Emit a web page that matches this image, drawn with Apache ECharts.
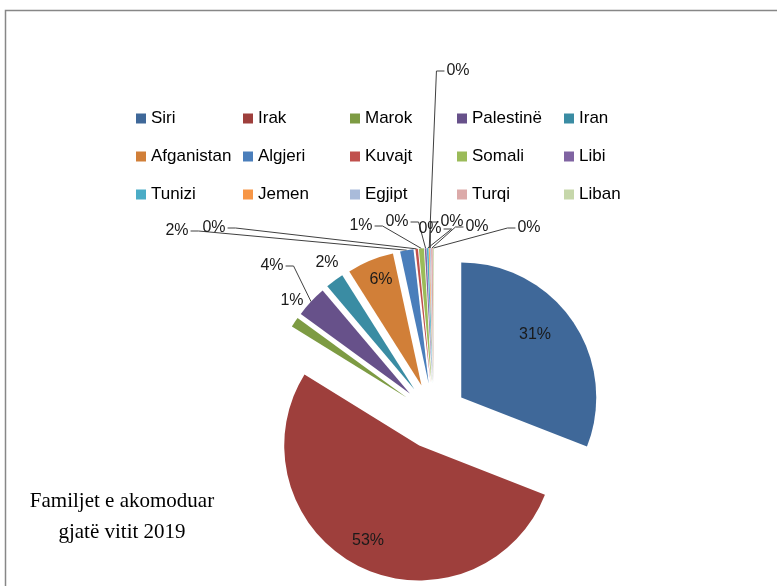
<!DOCTYPE html>
<html>
<head>
<meta charset="utf-8">
<script src="https://cdn.jsdelivr.net/npm/echarts/dist/echarts.min.js"></script>
<style>
  html, body { margin: 0; padding: 0; background: #fff; }
  #chart { width: 777px; height: 586px; }
</style>
</head>
<body>
<div id="chart"></div>
<script>
// familjet sipas vendit (perqindje e lexuar nga grafiku)
const countries = ['Siri', 'Irak', 'Marok', 'Palestinë', 'Iran', 'Afganistan', 'Algjeri', 'Kuvajt',
  'Somali', 'Libi', 'Tunizi', 'Jemen', 'Egjipt', 'Turqi', 'Liban'];
const shares = [31, 53, 1.2, 3.8, 2.2, 5.6, 1.6, 0.3, 0.6, 0.2, 0.2, 0.1, 0.1, 0.2, 0.1];
const sliceColors = ['#3F6899', '#9E3F3C', '#7D9B43', '#67518A', '#3A8CA3', '#D17F38', '#4A7EBB', '#C0504D',
  '#9BBB59', '#8064A2', '#4BACC6', '#F79646', '#A9BBDA', '#DCAAA9', '#C6D7AA'];

// where each percentage sits: [x, y, leader]  leader: 0 none, -1 label left of slice, 1 label right
const labelSpots = [
  [535, 335, 0], [368, 541, 0], [292, 301, 0], [272, 266, -1], [327, 263, 0], [381, 280, 0],
  [177, 231, -1], [214, 228, -1], [361, 226, -1], [397, 222, -1], [430, 229, -1],
  [458, 71, 1], [452, 222, 1], [477, 227, 1], [529, 228, 1]
];

const pieCenter = [434, 416];
const pieRadius = 135;
const explode = 33;

const pieData = countries.map(function (name, i) {
  return { name: name, value: shares[i], selected: true, itemStyle: { color: sliceColors[i] } };
});

// same values again, only to carry the percentage labels (no select offset on them)
const labelData = countries.map(function (name, i) {
  const item = { name: name, value: shares[i] };
  if (labelSpots[i][2] === 0) {
    item.labelLine = { show: false };
  }
  return item;
});

const myChart = echarts.init(document.getElementById('chart'), null, { renderer: 'canvas' });

const option = {
  backgroundColor: '#fff',
  animation: false,
  color: sliceColors,
  legend: {
    data: countries,
    left: 136,
    top: 105,
    width: 560,
    padding: 0,
    icon: 'rect',
    itemWidth: 10,
    itemHeight: 10,
    itemGap: 11,
    selectedMode: false,
    textStyle: {
      fontFamily: 'Liberation Sans',
      fontSize: 17,
      color: '#000',
      width: 81,
      lineHeight: 27
    }
  },
  graphic: [{
    type: 'rect',
    silent: true,
    shape: { x: 5.5, y: 10.5, width: 800, height: 620 },
    style: { fill: 'none', stroke: '#878787', lineWidth: 1.5 }
  }, {
    type: 'text',
    silent: true,
    x: 122,
    y: 486,
    style: {
      text: 'Familjet e akomoduar\ngjatë vitit 2019',
      textAlign: 'center',
      font: '21px "Liberation Serif"',
      lineHeight: 31,
      fill: '#000'
    }
  }],
  series: [{
    type: 'pie',
    center: pieCenter,
    radius: pieRadius,
    startAngle: 90,
    clockwise: true,
    selectedMode: 'multiple',
    selectedOffset: explode,
    data: pieData,
    itemStyle: { borderWidth: 0 },
    select: { itemStyle: { borderWidth: 0 } },
    emphasis: { disabled: true },
    label: { show: false },
    labelLine: { show: false }
  }, {
    type: 'pie',
    center: pieCenter,
    radius: pieRadius,
    startAngle: 90,
    clockwise: true,
    silent: true,
    selectedMode: false,
    avoidLabelOverlap: false,
    data: labelData,
    itemStyle: { color: 'rgba(0,0,0,0)', borderWidth: 0 },
    emphasis: { disabled: true },
    label: {
      show: true,
      position: 'outside',
      fontFamily: 'Liberation Sans',
      fontSize: 16,
      color: '#1a1a1a',
      formatter: function (p) { return Math.round(p.percent) + '%'; }
    },
    labelLine: {
      show: true,
      length: 10,
      length2: 10,
      lineStyle: { color: '#404040', width: 1 }
    },
    labelLayout: function (p) {
      const s = labelSpots[p.dataIndex];
      const res = { x: s[0], y: s[1], align: 'center', verticalAlign: 'middle' };
      if (s[2] !== 0 && p.labelLinePoints) {
        // move the line start out with the exploded slice
        const pt = p.labelLinePoints[0];
        const vx = pt[0] - pieCenter[0];
        const vy = pt[1] - pieCenter[1];
        const len = Math.sqrt(vx * vx + vy * vy) || 1;
        const start = [pt[0] + vx / len * explode, pt[1] + vy / len * explode];
        const half = p.labelRect.width / 2 + 2;
        const edge = s[2] < 0 ? s[0] + half : s[0] - half;
        const bend = s[2] < 0 ? edge + 8 : edge - 8;
        res.labelLinePoints = [start, [bend, s[1]], [edge, s[1]]];
      }
      return res;
    }
  }]
};
myChart.setOption(option);
</script>
</body>
</html>
